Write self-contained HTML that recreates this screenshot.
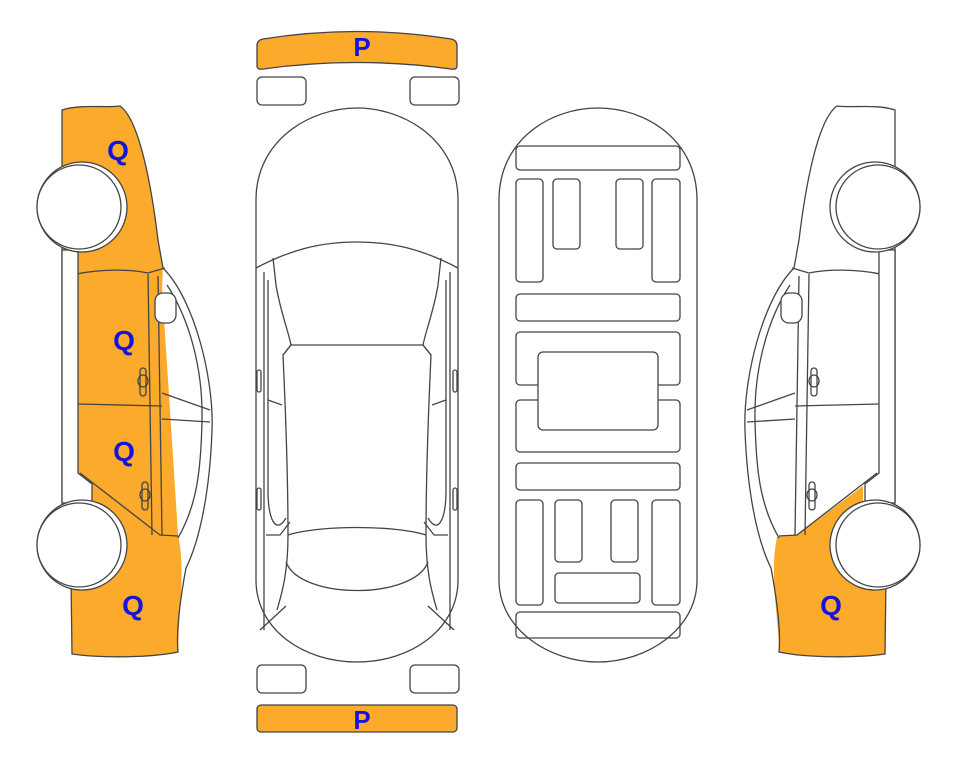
<!DOCTYPE html>
<html><head><meta charset="utf-8"><style>html,body{margin:0;padding:0;background:#fff}svg{display:block}</style></head>
<body>
<svg width="963" height="768" viewBox="0 0 963 768" xmlns="http://www.w3.org/2000/svg">
<defs>
<g id="sidelines" fill="none" stroke="#444" stroke-width="1.3">
  <path d="M62,110 C80,104 105,108 120,106 C140,120 152,190 158,240 L163,268 C195,300 214,380 212,430 C210,490 200,540 186,568 C180,600 176,630 178,652 C150,658 100,658 72,654 L70,503 L62,503 Z"/>
  <path d="M167,285 C190,320 203,370 202,420 C201,470 197,505 178,538"/>
  <path d="M77,274 C100,269 130,269 148,273 L165,268"/>
  <path d="M148,274 L152,535 M158,276 L162,535"/>
  <path d="M78,404 L162,406"/>
  <path d="M80,473 L160,535 L178,536"/>
  <path d="M162,393 L210,410 M162,419 L210,422"/>
  <rect x="155" y="293" width="21" height="30" rx="8" fill="#fff"/>
  <rect x="140" y="368" width="6" height="28" rx="3"/>
  <ellipse cx="143" cy="381" rx="5" ry="6"/>
  <rect x="142" y="482" width="6" height="28" rx="3"/>
  <ellipse cx="145" cy="495" rx="5" ry="6"/>
  <path d="M62,250 L78,250 L78,473 L92,484 L92,503 L62,503 Z" fill="#fff"/>
  <circle cx="82" cy="207" r="45" fill="#fff"/>
  <circle cx="79" cy="207" r="42" fill="#fff"/>
  <circle cx="82" cy="545" r="45" fill="#fff"/>
  <circle cx="79" cy="545" r="42" fill="#fff"/>
</g>
</defs>
<!-- left car -->
<path d="M62,110 C80,104 105,108 120,106 C140,120 152,190 158,240 L163,268 L162,288 C168,380 174,470 178,535 C186,570 178,620 178,652 C150,658 100,658 72,654 L70,503 L62,503 Z" fill="#fbaa2b"/>
<use href="#sidelines"/>
<!-- right car -->
<g transform="translate(957,0) scale(-1,1)">
<path d="M62,110 C80,104 105,108 120,106 C140,120 152,190 158,240 L163,268 C195,300 214,380 212,430 C210,490 200,540 186,568 C180,600 176,630 178,652 C150,658 100,658 72,654 L70,503 L62,503 Z" fill="#fff"/>
<path d="M94,486 L160,535 L180,537 C188,575 178,620 178,652 C150,658 100,658 72,654 L70,503 L94,503 Z" fill="#fbaa2b"/>
<use href="#sidelines"/>
</g>
<g font-family="Liberation Sans, sans-serif" font-weight="bold" font-size="28" fill="#1414dc" text-anchor="middle">
<text x="118" y="160">Q</text><text x="124" y="350">Q</text><text x="124" y="461">Q</text><text x="133" y="615">Q</text><text x="831" y="615">Q</text>
</g>
<!-- top view -->
<g fill="none" stroke="#444" stroke-width="1.3">
  <path d="M257,46 Q257,40 263,39 Q357,24 451,39 Q457,40 457,46 L457,66 Q457,70 451,69 Q357,56 263,69 Q257,70 257,66 Z" fill="#fbaa2b"/>
  <rect x="257" y="705" width="200" height="27" rx="4" fill="#fbaa2b"/>
  <rect x="257" y="77" width="49" height="28" rx="5"/><rect x="410" y="77" width="49" height="28" rx="5"/>
  <rect x="257" y="665" width="49" height="28" rx="5"/><rect x="410" y="665" width="49" height="28" rx="5"/>
  <path d="M256,200 C256,140 310,108 357,108 C404,108 458,140 458,200 L458,580 C458,630 410,662 357,662 C304,662 256,630 256,580 Z"/>
  <path d="M256,268 C290,250 320,242 357,242 C394,242 424,250 458,268"/>
  <path d="M273,258 L276,285 C280,310 288,330 291,345 L283,355 C286,420 288,480 288,535 C288,570 283,590 277,610"/>
  <path d="M441,258 L438,285 C434,310 426,330 423,345 L431,355 C428,420 426,480 426,535 C426,570 431,590 437,610"/>
  <path d="M291,345 L423,345 M283,355 L291,345 M431,355 L423,345"/>
  <path d="M288,535 C320,525 394,525 426,535"/>
  <path d="M286,562 C300,600 414,600 428,562"/>
  <path d="M264,272 L264,630 M268,280 L268,490 C268,520 276,535 286,518 M450,272 L450,630 M446,280 L446,490 C446,520 438,535 428,518"/>
  <path d="M268,400 L282,405 M446,400 L432,405 M266,535 L280,535 L290,522 M448,535 L434,535 L424,522"/>
  <path d="M260,630 L286,606 M454,630 L428,606"/>
  <rect x="257" y="370" width="4" height="22" rx="2"/><rect x="453" y="370" width="4" height="22" rx="2"/>
  <rect x="257" y="488" width="4" height="22" rx="2"/><rect x="453" y="488" width="4" height="22" rx="2"/>
</g>
<g font-family="Liberation Sans, sans-serif" font-weight="bold" font-size="26" fill="#1414dc" text-anchor="middle">
<text x="362" y="56">P</text><text x="362" y="729">P</text>
</g>
<!-- underside -->
<g fill="none" stroke="#444" stroke-width="1.3">
  <path d="M499,200 C499,140 550,108 598,108 C646,108 697,140 697,200 L697,580 C697,630 646,662 598,662 C550,662 499,630 499,580 Z"/>
  <rect x="516" y="146" width="164" height="24" rx="4"/>
  <rect x="516" y="179" width="27" height="103" rx="4"/>
  <rect x="553" y="179" width="27" height="70" rx="4"/>
  <rect x="616" y="179" width="27" height="70" rx="4"/>
  <rect x="652" y="179" width="28" height="103" rx="4"/>
  <rect x="516" y="294" width="164" height="27" rx="4"/>
  <rect x="516" y="332" width="164" height="53" rx="4"/>
  <rect x="516" y="400" width="164" height="52" rx="4"/>
  <rect x="538" y="352" width="120" height="78" rx="5" fill="#fff"/>
  <rect x="516" y="463" width="164" height="27" rx="4"/>
  <rect x="516" y="500" width="27" height="105" rx="4"/>
  <rect x="555" y="500" width="27" height="62" rx="4"/>
  <rect x="611" y="500" width="27" height="62" rx="4"/>
  <rect x="652" y="500" width="28" height="105" rx="4"/>
  <rect x="555" y="573" width="85" height="30" rx="4"/>
  <rect x="516" y="612" width="164" height="26" rx="4"/>
</g>
</svg>
</body></html>
